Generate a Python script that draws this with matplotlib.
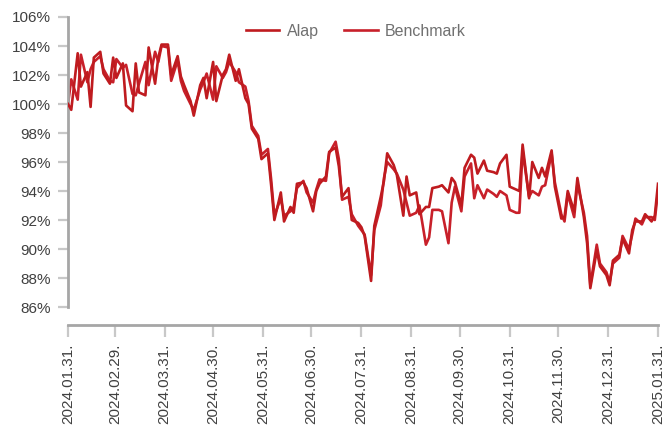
import matplotlib
matplotlib.use('Agg')
import matplotlib.pyplot as plt
import matplotlib.dates as mdates
from matplotlib.ticker import FuncFormatter
import numpy as np
import pandas as pd

plt.rcParams['font.family'] = ['Liberation Sans', 'DejaVu Sans']

# every second business day, 2024-01-31 .. 2025-01-31
dates = pd.bdate_range('2024-01-31', '2025-01-31')[::2]

# index level, % (start = 100)
alap = [
    100.0, 99.6, 103.5, 101.2, 102.2, 99.8, 103.2, 103.6, 102.1, 101.4,
    103.2, 101.8, 102.8, 99.9, 99.5, 102.8, 100.8, 100.6, 103.9, 101.4,
    103.2, 104.1, 104.1, 102.0, 103.3, 101.9, 101.3, 100.2, 99.2, 101.3,
    101.8, 100.4, 102.9, 100.2, 102.0, 102.4, 103.4, 101.6, 102.4, 100.4,
    100.0, 98.3, 97.6, 96.2, 96.6, 94.4, 92.0, 93.9, 91.9, 92.9,
    92.5, 94.5, 94.6, 94.2, 92.6, 94.0, 94.5, 95.0, 96.7, 97.0,
    95.7, 93.6, 94.2, 92.0, 91.8, 91.5, 90.9, 87.8, 91.6, 93.6,
    94.7, 96.6, 95.8, 95.1, 92.3, 95.0, 93.7, 93.9, 92.4, 92.9,
    92.9, 94.2, 94.3, 94.4, 93.9, 94.9, 94.6, 93.0, 95.6, 96.5,
    96.3, 95.2, 96.1, 95.4, 95.3, 95.2, 95.9, 96.5, 94.3, 94.1,
    94.0, 97.2, 93.5, 96.0, 94.9, 95.6, 95.0, 96.8, 94.3, 92.1,
    92.2, 94.0, 92.6, 94.9, 92.2, 90.4, 87.3, 89.9, 88.8, 88.2,
    87.5, 89.2, 89.6, 90.7, 89.7, 91.3, 91.9, 91.9, 92.4, 91.9,
    92.3, 94.5,
]
benchmark = [
    100.0, 101.7, 100.3, 103.4, 101.5, 102.4, 102.9, 103.3, 102.4, 101.6,
    101.5, 103.1, 102.5, 102.7, 100.7, 100.6, 101.4, 102.9, 101.3, 103.6,
    102.9, 104.0, 103.9, 101.6, 103.0, 101.6, 100.9, 100.0, 99.6, 101.0,
    101.5, 102.1, 100.3, 102.6, 101.8, 102.2, 102.9, 102.2, 101.5, 101.2,
    100.2, 98.5, 97.8, 96.5, 96.9, 94.8, 92.3, 93.5, 92.3, 92.6,
    92.9, 94.2, 94.7, 93.9, 93.2, 94.1, 94.8, 94.7, 96.6, 97.4,
    96.2, 93.4, 93.6, 92.4, 91.6, 91.3, 91.0, 88.2, 91.3, 93.0,
    94.9, 96.0, 95.5, 95.2, 94.1, 93.2, 92.3, 92.5, 93.0, 90.3,
    90.8, 92.7, 92.7, 92.6, 90.4, 93.2, 94.3, 92.6, 95.0, 95.9,
    93.5, 94.4, 93.5, 94.1, 93.8, 93.6, 94.0, 93.7, 92.7, 92.5,
    92.5, 96.8, 93.6, 94.0, 93.7, 94.3, 94.4, 96.6, 94.6, 92.4,
    91.9, 93.8, 92.2, 94.5, 92.5, 90.9, 87.5, 90.3, 89.0, 88.4,
    87.7, 89.0, 89.4, 90.9, 90.0, 91.0, 92.1, 91.7, 92.2, 92.2,
    92.0, 94.0,
]

month_ends = pd.date_range('2024-01-31', '2025-01-31', freq='ME')
yticks = np.arange(86, 107, 2)

fig = plt.figure(figsize=(6.65, 4.25), dpi=100)
ax = fig.add_axes([0.1023, 0.2776, 0.8872, 0.6824])

ax.plot(dates, alap, color='#bf1b1f', lw=1.9, label='Alap', zorder=3)
ax.plot(dates, benchmark, color='#c8202a', lw=1.9, label='Benchmark', zorder=2)

ax.set_xlim(dates[0], dates[-1])
ax.set_ylim(86, 106)
ax.set_yticks(yticks)
ax.yaxis.set_major_formatter(FuncFormatter(lambda v, p: '%d%%' % v))
ax.set_xticks(month_ends)
ax.xaxis.set_major_formatter(mdates.DateFormatter('%Y.%m.%d.'))

# axes cosmetics
for s in ['top', 'right']:
    ax.spines[s].set_visible(False)
ax.spines['left'].set_color('#a6a6a6')
ax.spines['left'].set_linewidth(2)
ax.spines['left'].set_bounds(86, 106)
ax.spines['bottom'].set_color('#a6a6a6')
ax.spines['bottom'].set_linewidth(2)
ax.spines['bottom'].set_position(('outward', 13))

ax.tick_params(axis='y', length=7.5, width=1.6, color='#c8c8c8', pad=5,
               labelsize=11, labelcolor='#404040')
ax.tick_params(axis='x', length=8.5, width=1.6, color='#c8c8c8', pad=5,
               labelsize=11, labelcolor='#404040', labelrotation=90)

leg = fig.legend(loc='center', bbox_to_anchor=(0.535, 0.927), ncol=2,
                 frameon=False, fontsize=11.5, handlelength=2.1,
                 handletextpad=0.45, columnspacing=1.6)
for t in leg.get_texts():
    t.set_color('#707070')

fig.savefig('out.png', dpi=100)
